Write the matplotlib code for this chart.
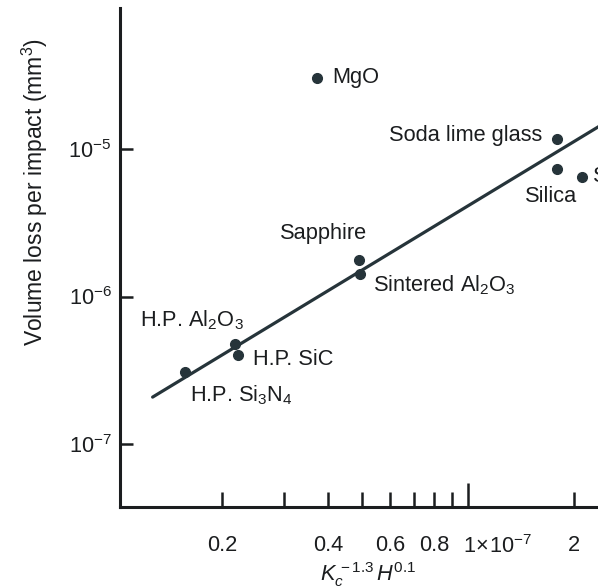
import matplotlib
matplotlib.use('Agg')
import matplotlib.pyplot as plt
from matplotlib.ticker import FixedLocator, FixedFormatter, NullLocator
from matplotlib.transforms import ScaledTranslation

plt.rcParams['font.family'] = ['Liberation Sans', 'DejaVu Sans']
plt.rcParams['mathtext.fontset'] = 'custom'
plt.rcParams['mathtext.rm'] = 'Liberation Sans'
plt.rcParams['mathtext.it'] = 'Liberation Sans:italic'
plt.rcParams['mathtext.bf'] = 'Liberation Sans:bold'

# materiaux (x en unites de 1e-7)
materials = ['MgO', 'Soda lime glass', 'Silica', 'Spinel', 'Sapphire',
             r'Sintered Al$_2$O$_3$', r'H.P. Al$_2$O$_3$', 'H.P. SiC',
             r'H.P. Si$_3$N$_4$']
kc_h = [0.372, 1.79, 1.79, 2.11, 0.490, 0.493, 0.218, 0.222, 0.157]
vol_loss = [3.03e-5, 1.17e-5, 7.3e-6, 6.5e-6, 1.77e-6, 1.42e-6, 4.8e-7, 4.0e-7, 3.07e-7]

# droite de correlation
fit_x = [0.127, 3.0]
fit_y = [2.08e-7, 2.02e-5]

x_ticks = [0.2, 0.3, 0.4, 0.5, 0.6, 0.7, 0.8, 0.9, 1.0, 2.0]
x_tick_labels = ['0.2', '', '0.4', '', '0.6', '', '0.8', '', r'$1\!\times\!10^{-7}$', '2']
y_ticks = [1e-7, 1e-6, 1e-5]
y_tick_labels = [r'$10^{-7}$', r'$10^{-6}$', r'$10^{-5}$']

# position des etiquettes (decalage en pixels depuis le point)
label_offsets = [(15, 0, 'left'), (-15, 3, 'right'), (-6, -27, 'center'),
                 (11, 0, 'left'), (-35, 26, 'center'), (13, -11, 'left'),
                 (9, 23, 'right'), (15, -4, 'left'), (5, -23, 'left')]

ink = '#1b1d1f'
dot = '#26343a'

fig = plt.figure(figsize=(5.98, 5.88), dpi=100)
ax = fig.add_axes([120 / 598, 1 - 507 / 588, 1 - 120 / 598, 499 / 588])
ax.set_xscale('log')
ax.set_yscale('log')

ax.plot(fit_x, fit_y, color=dot, lw=2.3, solid_capstyle='round')
ax.plot(kc_h, vol_loss, 'o', color=dot, ms=7, ls='none')

for name, x, y, (dx, dy, ha) in zip(materials, kc_h, vol_loss, label_offsets):
    ax.annotate(name, (x, y), xytext=(dx * 0.72, dy * 0.72),
                textcoords='offset points', ha=ha, va='center',
                fontsize=15.7, color=ink, annotation_clip=False)

ax.set_xlim(0.1026, 2.34)
ax.set_ylim(10 ** -7.427, 10 ** -4.044)

for s in ['top', 'right']:
    ax.spines[s].set_visible(False)
for s in ['left', 'bottom']:
    ax.spines[s].set_linewidth(2.2)
    ax.spines[s].set_color(ink)

ax.xaxis.set_major_locator(FixedLocator(x_ticks))
ax.xaxis.set_major_formatter(FixedFormatter(x_tick_labels))
ax.xaxis.set_minor_locator(NullLocator())
ax.yaxis.set_major_locator(FixedLocator(y_ticks))
ax.yaxis.set_major_formatter(FixedFormatter(y_tick_labels))
ax.yaxis.set_minor_locator(NullLocator())

ax.tick_params(axis='x', direction='in', length=11, width=1.8, pad=20,
               labelsize=15.7, colors=ink)
ax.tick_params(axis='y', direction='in', length=9.5, width=1.8, pad=6,
               labelsize=15.7, colors=ink)
# la graduation 1e-7 est plus longue, son texte part de la graduation
t1 = ax.xaxis.get_major_ticks()[8]
t1.tick1line.set_markersize(17)
t1.label1.set_horizontalalignment('left')
t1.label1.set_transform(t1.label1.get_transform()
                        + ScaledTranslation(-0.05, 0, fig.dpi_scale_trans))

fig.text(368 / 598, 1 - 575 / 588, r'$K_c^{\,-1.3}\,H^{0.1}$', ha='center',
         va='center', fontsize=15.7, color=ink)
fig.text(35 / 598, 1 - 192 / 588, r'Volume loss per impact (mm$^3$)',
         rotation=90, ha='center', va='center', fontsize=16.5, color=ink)

fig.savefig('out.png', dpi=100)
